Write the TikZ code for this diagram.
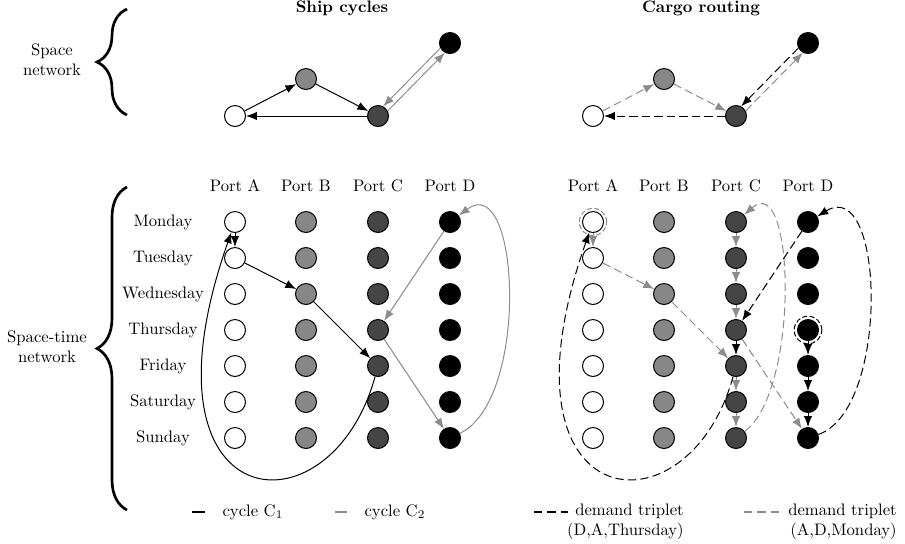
\documentclass[tikz,border=0pt]{standalone}
\usepackage{amsmath}
\usepackage{tikz}
\usetikzlibrary{arrows.meta,decorations.pathreplacing,positioning}
\definecolor{portB}{gray}{0.53}
\definecolor{portC}{gray}{0.27}
\definecolor{lnGray}{gray}{0.55}

\begin{document}
\begin{tikzpicture}[x=0.6pt,y=-0.6pt,
		>={Latex[length=6.5pt,width=5pt]},
		port/.style={circle,draw,line width=0.6pt,minimum size=12.6pt,inner sep=0pt},
		arcOne/.style={->,line width=0.6pt,black},
		arcTwo/.style={->,line width=0.6pt,lnGray},
		dmOne/.style={arcOne,dash pattern=on 5pt off 2.5pt},
		dmTwo/.style={arcTwo,dash pattern=on 5pt off 2.5pt},
		bigbrace/.style={decorate,decoration={brace,amplitude=18pt},line width=1.6pt},
		ring/.style={line width=0.6pt,dash pattern=on 3pt off 1.5pt}]
			\useasboundingbox (0,0) rectangle (905,543);
			\node[font=\bfseries] (ttlShip) at (342,8) {Ship cycles};
			\node[font=\bfseries] (ttlCargo) at (701,8) {Cargo routing};
			\draw[bigbrace] (127,115) -- (127,9);
			\node[align=center] (lblSpace) at (52,60) {Space\\network};
			\draw[bigbrace] (127,510) -- (127,187);
			\node[align=center] (lblTime) at (47,347) {Space-time\\network};
			\foreach \p/\x/\y/\f in {A/235/116/white,B/306/79/portB,C/378/116/portC,D/450/43/black} {
				\node[port,fill=\f] (sp\p) at (\x,\y) {};
				\node[port,fill=\f] (cp\p) at (\x+358,\y) {};
				\node (sPort\p) at (\x,186) {Port \p};
				\node (cPort\p) at (\x+358,186) {Port \p};
				\foreach \i in {1,...,7} {
					\node[port,fill=\f] (st\p\i) at (\x,186+36*\i) {};
					\node[port,fill=\f] (ct\p\i) at (\x+358,186+36*\i) {};
				}
			}
			\foreach \d [count=\i] in {Monday,Tuesday,Wednesday,Thursday,Friday,Saturday,Sunday}
				\node (day\i) at (163,186+36*\i) {\d};
			% space network
			\draw[arcOne] (spA) -- (spB);
			\draw[arcOne] (spB) -- (spC);
			\draw[arcOne] (spC) -- (spA);
			\draw[arcTwo] (spC.28) -- (spD.242);
			\draw[arcTwo] (spD.208) -- (spC.62);
			\draw[dmTwo] (cpA) -- (cpB);
			\draw[dmTwo] (cpB) -- (cpC);
			\draw[dmOne] (cpC) -- (cpA);
			\draw[dmTwo] (cpC.28) -- (cpD.242);
			\draw[dmOne] (cpD.208) -- (cpC.62);
			% space-time network, ship cycles
			\draw[arcOne] (stA1) -- (stA2);
			\draw[arcOne] (stA2) -- (stB3);
			\draw[arcOne] (stB3) -- (stC5);
			\draw[arcOne] (stC5) .. controls (330,540) and (130,520) .. (stA1);
			\draw[arcTwo] (stD1) -- (stC4);
			\draw[arcTwo] (stC4) -- (stD7);
			\draw[arcTwo] (stD7) .. controls (530,400) and (520,170) .. (stD1);
			% space-time network, cargo routing
			\draw[ring,lnGray] (ctA1) circle (8.2pt);
			\draw[ring] (ctD4) circle (8.3pt);
			\draw[dmTwo] (ctA1) -- (ctA2);
			\draw[dmTwo] (ctA2) -- (ctB3);
			\draw[dmTwo] (ctB3) -- (ctC5);
			\foreach \i/\j in {5/6,6/7,1/2,2/3,3/4}
				\draw[dmTwo] (ctC\i) -- (ctC\j);
			\draw[dmTwo] (ctC7) .. controls (800,390) and (795,170) .. (ctC1);
			\draw[dmTwo] (ctC4) -- (ctD7);
			\foreach \i/\j in {4/5,5/6,6/7}
				\draw[dmOne] (ctD\i) -- (ctD\j);
			\draw[dmOne] (ctD7) .. controls (890,410) and (885,175) .. (ctD1);
			\draw[dmOne] (ctD1) -- (ctC4);
			\draw[dmOne] (ctC4) -- (ctC5);
			\draw[dmOne] (ctC5) .. controls (688,540) and (488,520) .. (ctA1);
			% legend
			\coordinate (keyOneS) at (192,512);
			\coordinate (keyOneE) at (205,512);
			\draw[line width=1pt] (keyOneS) -- (keyOneE);
			\node[right=7pt of keyOneE] (keyOneT) {cycle C$_1$};
			\coordinate (keyTwoS) at (335,512);
			\coordinate (keyTwoE) at (347,512);
			\draw[line width=1pt,lnGray] (keyTwoS) -- (keyTwoE);
			\node[right=7pt of keyTwoE] (keyTwoT) {cycle C$_2$};
			\coordinate (keyThreeS) at (534,512);
			\coordinate (keyThreeE) at (568,512);
			\draw[line width=0.8pt,dash pattern=on 5pt off 3pt] (keyThreeS) -- (keyThreeE);
			\node[align=right,anchor=east,inner sep=0pt] (keyThreeT) at (684,522) {demand triplet\\(D,A,Thursday)};
			\coordinate (keyFourS) at (744,512);
			\coordinate (keyFourE) at (779,512);
			\draw[line width=0.8pt,lnGray,dash pattern=on 5pt off 3pt] (keyFourS) -- (keyFourE);
			\node[align=right,anchor=east,inner sep=0pt] (keyFourT) at (897,522) {demand triplet\\(A,D,Monday)};
\end{tikzpicture}
\end{document}
